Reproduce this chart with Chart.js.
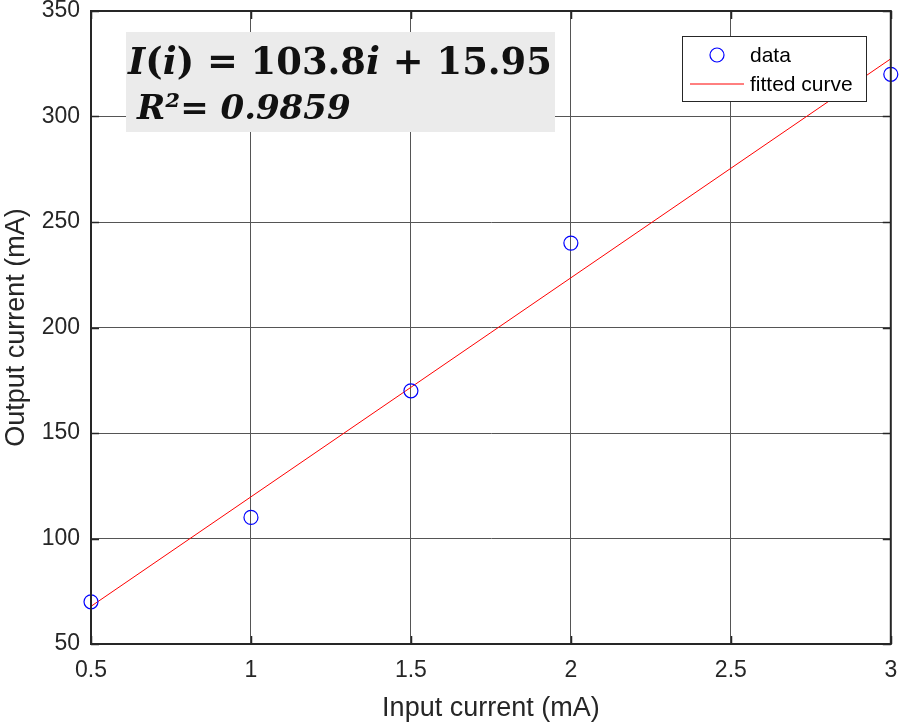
<!DOCTYPE html>
<html>
<head>
<meta charset="utf-8">
<script src="https://cdn.jsdelivr.net/npm/chart.js@4.4.0/dist/chart.umd.min.js"></script>
<style>
  html, body { margin: 0; padding: 0; background: #fff; }
  #wrap { width: 899px; height: 725px; }
</style>
</head>
<body>
<div id="wrap"><canvas id="chart" width="899" height="725"></canvas></div>
<script>
// measured points
const inputCurrent = [0.5, 1, 1.5, 2, 3];
const outputCurrent = [70, 110, 170, 240, 320];
// fitted line end points (I = 103.8 i + 15.95)
const fitX = [0.5, 3];
const fitY = [67.85, 327.35];
const xTicks = [0.5, 1, 1.5, 2, 2.5, 3];
const yTicks = [50, 100, 150, 200, 250, 300, 350];

const textColor = "#262626";
const font = "'Liberation Sans', Arial, sans-serif";

// axes box + inward ticks, grey box with the fit equation, legend
const overlay = {
    id: "overlay",
    afterDatasetsDraw(chart) {
        const c = chart.ctx;
        const a = chart.chartArea;
        const xs = chart.scales.x, ys = chart.scales.y;
        c.save();

        c.strokeStyle = textColor;
        c.lineWidth = 1.5;
        c.beginPath();
        xTicks.forEach((v) => {
            const px = Math.round(xs.getPixelForValue(v)) + 0.5;
            c.moveTo(px, a.bottom); c.lineTo(px, a.bottom - 8);
            c.moveTo(px, a.top); c.lineTo(px, a.top + 8);
        });
        yTicks.forEach((v) => {
            const py = Math.round(ys.getPixelForValue(v)) + 0.5;
            c.moveTo(a.left, py); c.lineTo(a.left + 8, py);
            c.moveTo(a.right, py); c.lineTo(a.right - 8, py);
        });
        c.stroke();
        c.lineWidth = 2;
        c.strokeRect(a.left, a.top, a.right - a.left, a.bottom - a.top);

        c.fillStyle = "#ebebeb";
        c.fillRect(126, 32, 429, 100);

        const parts = [
            ["I", true], ["(", false], ["i", true], [") = 103.8", false],
            ["i", true], [" + 15.95", false],
        ];
        let size = 38;
        const measure = (s) => {
            let w = 0;
            parts.forEach(([t, it]) => {
                c.font = (it ? "italic " : "") + "bold " + s + "px 'DejaVu Serif', serif";
                w += c.measureText(t).width;
            });
            return w;
        };
        size = size * 424 / measure(size);
        let x = 128;
        c.fillStyle = "#111";
        c.textBaseline = "alphabetic";
        parts.forEach(([t, it]) => {
            c.font = (it ? "italic " : "") + "bold " + size + "px 'DejaVu Serif', serif";
            c.fillText(t, x, 74);
            x += c.measureText(t).width;
        });
        c.font = "italic bold 34px 'DejaVu Serif', serif";
        c.fillText("R\u00b2= 0.9859", 137, 119);

        // legend
        c.fillStyle = "#fff";
        c.fillRect(682, 36, 184, 65);
        c.strokeStyle = textColor;
        c.lineWidth = 1;
        c.strokeRect(682.5, 36.5, 184, 65);
        c.strokeStyle = "#0000ff";
        c.lineWidth = 1.2;
        c.beginPath();
        c.arc(717, 55, 7, 0, Math.PI * 2);
        c.stroke();
        c.strokeStyle = "#ff0000";
        c.lineWidth = 1;
        c.beginPath();
        c.moveTo(690, 84);
        c.lineTo(744, 84);
        c.stroke();
        c.fillStyle = "#000";
        c.font = "21px " + font;
        c.textBaseline = "middle";
        c.fillText("data", 750, 56);
        c.fillText("fitted curve", 750, 85);
        c.restore();
    },
};

new Chart(document.getElementById("chart"), {
    type: "scatter",
    data: {
        datasets: [
            {
                label: "data",
                data: inputCurrent.map((x, i) => ({ x, y: outputCurrent[i] })),
                borderColor: "#0000ff",
                backgroundColor: "rgba(0,0,0,0)",
                borderWidth: 1.2,
                pointRadius: 7,
                clip: false,
            },
            {
                label: "fitted curve",
                type: "line",
                data: fitX.map((x, i) => ({ x, y: fitY[i] })),
                borderColor: "#ff0000",
                borderWidth: 1,
                pointRadius: 0,
                fill: false,
            },
        ],
    },
    options: {
        responsive: false,
        animation: false,
        layout: { padding: { left: 0, top: 11, right: 8, bottom: 0 } },
        plugins: { legend: { display: false }, tooltip: { enabled: false } },
        scales: {
            x: {
                type: "linear",
                min: 0.5,
                max: 3,
                afterBuildTicks: (s) => { s.ticks = xTicks.map((v) => ({ value: v })); },
                afterFit: (s) => { s.height = 81; s.paddingLeft = 0; s.paddingRight = 0; },
                grid: { color: "#555555", lineWidth: 1, drawTicks: false },
                border: { color: textColor, width: 2 },
                ticks: {
                    color: textColor, padding: 13, maxRotation: 0,
                    font: { family: font, size: 23 },
                    callback: (v) => String(v),
                },
                title: {
                    display: true,
                    text: "Input current (mA)",
                    color: textColor,
                    padding: { top: 6, bottom: 0 },
                    font: { family: font, size: 27 },
                },
            },
            y: {
                type: "linear",
                min: 50,
                max: 350,
                afterBuildTicks: (s) => { s.ticks = yTicks.map((v) => ({ value: v })); },
                afterFit: (s) => { s.width = 91; s.paddingTop = 0; s.paddingBottom = 0; },
                grid: { color: "#555555", lineWidth: 1, drawTicks: false },
                border: { color: textColor, width: 2 },
                ticks: {
                    color: textColor, padding: 11,
                    font: { family: font, size: 23 },
                    callback: (v) => String(v),
                },
                title: {
                    display: true,
                    text: "Output current (mA)",
                    color: textColor,
                    padding: { top: 0, bottom: 2 },
                    font: { family: font, size: 27 },
                },
            },
        },
    },
    plugins: [overlay],
});
</script>
</body>
</html>
